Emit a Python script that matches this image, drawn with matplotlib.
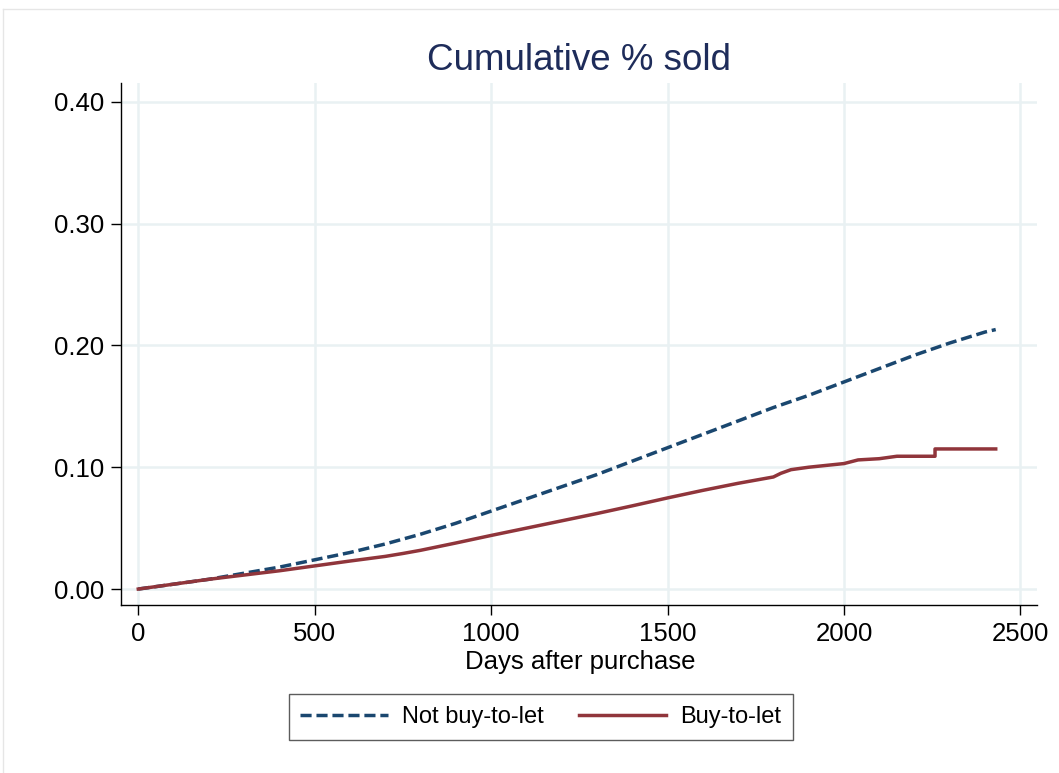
import matplotlib
matplotlib.use("Agg")
import matplotlib.pyplot as plt
from matplotlib.lines import Line2D

plt.rcParams['font.family'] = ['Liberation Sans', 'DejaVu Sans']

# cumulative share sold
days_not_btl = [0, 100, 200, 300, 400, 500, 600, 700, 800, 900, 1000, 1100, 1200,
                1300, 1400, 1500, 1600, 1700, 1800, 1900, 2000, 2100, 2200, 2300,
                2400, 2430]
sold_not_btl = [0.000, 0.004, 0.008, 0.013, 0.018, 0.024, 0.030, 0.037, 0.045,
                0.054, 0.064, 0.074, 0.084, 0.094, 0.105, 0.116, 0.127, 0.138,
                0.149, 0.159, 0.170, 0.181, 0.192, 0.202, 0.211, 0.213]

days_btl = [0, 100, 200, 300, 400, 500, 600, 700, 750, 800, 900, 1000, 1100, 1200,
            1300, 1400, 1500, 1600, 1700, 1800, 1821, 1850, 1900, 2000, 2040, 2100,
            2150, 2258, 2258, 2430]
sold_btl = [0.000, 0.004, 0.008, 0.0115, 0.015, 0.019, 0.023, 0.0268, 0.0292, 0.0318,
            0.0378, 0.044, 0.050, 0.056, 0.062, 0.0683, 0.0748, 0.081, 0.0868, 0.092,
            0.095, 0.098, 0.100, 0.103, 0.106, 0.107, 0.109, 0.109, 0.115, 0.115]

xticks = [0, 500, 1000, 1500, 2000, 2500]
yticks = [0.0, 0.1, 0.2, 0.3, 0.4]
ytick_labels = ["0.00", "0.10", "0.20", "0.30", "0.40"]

navy = "#1a476f"
maroon = "#90353b"
grid_col = "#e9f1f3"

W, H = 1059, 773
fig = plt.figure(figsize=(W / 100, H / 100), dpi=100)

# light outer frame of the graph region
fig.add_artist(Line2D([3 / W, 3 / W], [0, 1 - 9 / H], transform=fig.transFigure,
                      color="#e6e6e6", lw=1))
fig.add_artist(Line2D([3 / W, 1], [1 - 9 / H, 1 - 9 / H], transform=fig.transFigure,
                      color="#e6e6e6", lw=1))

ax = fig.add_axes([121 / W, 1 - 605 / H, (1037 - 121) / W, (605 - 83) / H])
ax.set_xlim(-49, 2547)
ax.set_ylim(-0.0131, 0.4154)

ax.plot(days_not_btl, sold_not_btl, color=navy, lw=2.5, ls=(0, (3.2, 1.4)),
        label="Not buy-to-let", zorder=3)
ax.plot(days_btl, sold_btl, color=maroon, lw=2.5, label="Buy-to-let", zorder=3)

ax.set_xticks(xticks)
ax.set_yticks(yticks)
ax.set_yticklabels(ytick_labels)
ax.grid(True, color=grid_col, lw=1.8, zorder=0)
ax.set_axisbelow(True)
for s in ["top", "right"]:
    ax.spines[s].set_visible(False)
for s in ["left", "bottom"]:
    ax.spines[s].set_linewidth(1.0)
ax.tick_params(axis="both", labelsize=18.5, length=7, width=1.0, pad=5, colors="black")

fig.text(579 / W, 1 - 60 / H, "Cumulative % sold", ha="center", va="center",
         fontsize=26.5, color="#1e2c5a")
fig.text(580 / W, 1 - 662 / H, "Days after purchase", ha="center", va="center",
         fontsize=18.5, color="black")

leg = fig.legend(loc="center", bbox_to_anchor=(541 / W, 1 - 717 / H), ncol=2,
                 fontsize=17, frameon=True, fancybox=False, edgecolor="#333333",
                 handlelength=3.7, handletextpad=0.6, columnspacing=1.5,
                 borderpad=0.5)
leg.get_frame().set_linewidth(1.0)

fig.savefig("out.png", dpi=100)
